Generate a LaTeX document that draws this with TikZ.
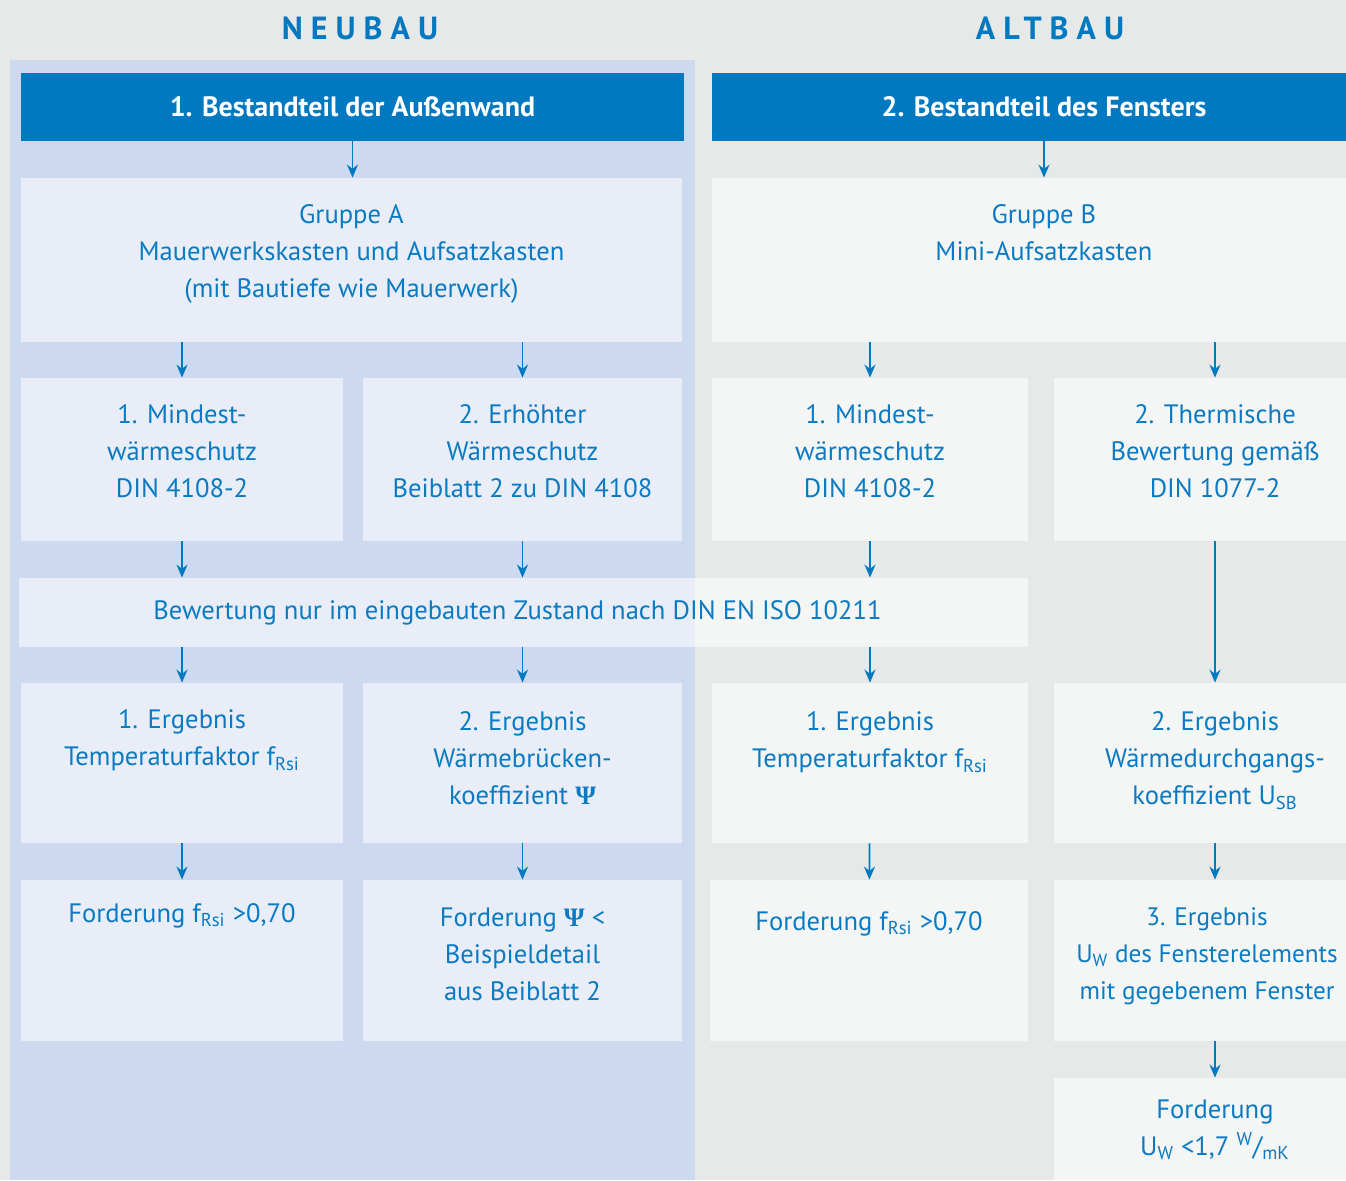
\documentclass[tikz,border=0pt]{standalone}
\usepackage{fontspec}
\setmainfont{PT Sans}
\newfontfamily\psifont{Liberation Serif}
\usetikzlibrary{arrows.meta,positioning}
\definecolor{bluetext}{HTML}{0A7BC2}
\definecolor{headblue}{HTML}{0079C1}
\definecolor{panelblue}{HTML}{CDD9EF}
\definecolor{bggray}{HTML}{E7E9E9}
\newcommand{\psisym}{{\psifont\bfseries Ψ}}

\begin{document}
\begin{tikzpicture}[x=0.5pt,y=-0.5pt]
		\tikzstyle{box} = [fill=white, fill opacity=0.55, text opacity=1, inner sep=0]
		\tikzstyle{head} = [fill=headblue, text=white, font=\bfseries\fontsize{14}{17}\selectfont, inner sep=0]
		\tikzstyle{title} = [text=headblue, font=\bfseries\fontsize{16}{18}\selectfont\addfontfeature{LetterSpace=25}]
		\tikzstyle{txt} = [text=bluetext, align=center, font=\fontsize{13.3}{18.5}\selectfont, inner sep=0, anchor=north, execute at begin node={\rule{0pt}{10pt}}]
		\tikzstyle{arr} = [-{Stealth[length=6.5pt,width=5.5pt]}, headblue, line width=0.9pt]
		\useasboundingbox (0,0) rectangle (1346,1180);
		\clip (0,0) rectangle (1346,1180);
		\fill[bggray] (0,0) rectangle (1346,1180);
		\fill[panelblue] (10,60) rectangle (695,1180);

		\node [title] (neubau) at (360,28) {NEUBAU};
		\node [title] (altbau) at (1050,28) {ALTBAU};
		\node [head, minimum width=331.5pt, minimum height=34pt] (hL) at (352.5,107) {1. Bestandteil der Außenwand};
		\node [head, minimum width=332pt, minimum height=34pt] (hR) at (1044,107) {2. Bestandteil des Fensters};

		\node [box, minimum width=330.5pt, minimum height=82pt] (gA) at (351.5,260) {};
		\node [box, minimum width=332pt, minimum height=82pt] (gB) at (1044,260) {};
		\node [txt, yshift=-13.5pt] (gAtext) at (gA.north) {Gruppe A\\Mauerwerkskasten und Aufsatzkasten\\(mit Bautiefe wie Mauerwerk)};
		\node [txt, yshift=-13.5pt] (gBtext) at (gB.north) {Gruppe B\\Mini-Aufsatzkasten};

		% Anforderungen
		\node [box, minimum width=161pt, minimum height=81.5pt] (m1L) at (182,459.5) {};
		\node [box, minimum width=159.5pt, minimum height=81.5pt] (e2L) at (522.5,459.5) {};
		\node [box, minimum width=158pt, minimum height=81.5pt] (m1R) at (870,459.5) {};
		\node [box, minimum width=161pt, minimum height=81.5pt] (t2R) at (1215,459.5) {};
		\node [txt, yshift=-13.5pt] (m1Ltext) at (m1L.north) {1. Mindest-\\wärmeschutz\\DIN 4108-2};
		\node [txt, yshift=-13.5pt] (e2Ltext) at (e2L.north) {2. Erhöhter\\Wärmeschutz\\Beiblatt 2 zu DIN 4108};
		\node [txt, yshift=-13.5pt] (m1Rtext) at (m1R.north) {1. Mindest-\\wärmeschutz\\DIN 4108-2};
		\node [txt, yshift=-13.5pt] (t2Rtext) at (t2R.north) {2. Thermische\\Bewertung gemäß\\DIN 1077-2};

		\node [box, minimum width=504.5pt, minimum height=34.5pt, text=bluetext, font=\fontsize{13.3}{18.5}\selectfont] (bar) at (523.5,612.5) {\hspace*{-6pt}Bewertung nur im eingebauten Zustand nach DIN EN ISO 10211};

		% Ergebnisse
		\node [box, minimum width=161pt, minimum height=80pt] (r1L) at (182,763) {};
		\node [box, minimum width=159.5pt, minimum height=80pt] (r2L) at (522.5,763) {};
		\node [box, minimum width=158pt, minimum height=80pt] (r1R) at (870,763) {};
		\node [box, minimum width=161pt, minimum height=80pt] (r2R) at (1215,763) {};
		\node [txt, yshift=-13.5pt] (r1Ltext) at (r1L.north) {1. Ergebnis\\Temperaturfaktor f\textsubscript{Rsi}};
		\node [txt, yshift=-14.5pt] (r2Ltext) at (r2L.north) {2. Ergebnis\\Wärmebrücken-\\koeffizient \psisym};
		\node [txt, yshift=-14.5pt] (r1Rtext) at (r1R.north) {1. Ergebnis\\Temperaturfaktor f\textsubscript{Rsi}};
		\node [txt, yshift=-14.5pt] (r2Rtext) at (r2R.north) {2. Ergebnis\\Wärmedurchgangs-\\koeffizient U\textsubscript{SB}};

		% Forderungen
		\node [box, minimum width=161pt, minimum height=80.5pt] (fL) at (182,960.5) {};
		\node [box, minimum width=159.5pt, minimum height=80.5pt] (fpsi) at (522.5,960.5) {};
		\node [box, minimum width=159pt, minimum height=80.5pt] (fR) at (869,960.5) {};
		\node [box, minimum width=161pt, minimum height=80.5pt] (e3R) at (1215,960.5) {};
		\node [box, minimum width=161pt, minimum height=61pt] (fwR) at (1215,1139) {};
		\node [txt, yshift=-11pt] (fLtext) at (fL.north) {Forderung f\textsubscript{Rsi} >0,70};
		\node [txt, yshift=-14pt] (fpsitext) at (fpsi.north) {Forderung \psisym{} <\\Beispieldetail\\aus Beiblatt 2};
		\node [txt, yshift=-15pt] (fRtext) at (fR.north) {Forderung f\textsubscript{Rsi} >0,70};
		\node [txt, yshift=-14pt, font=\fontsize{12.6}{18.5}\selectfont] (e3Rtext) at ([xshift=-4pt]e3R.north) {3. Ergebnis\\U\textsubscript{W} des Fensterelements\\mit gegebenem Fenster};
		\node [txt, yshift=-11pt] (fwRtext) at (fwR.north) {Forderung\\U\textsubscript{W} <1,7 \textsuperscript{W}/\textsubscript{mK}};

		\draw[arr] (hL.south) -- (hL.south |- gA.north);
		\draw[arr] (hR.south) -- (hR.south |- gB.north);
		\draw[arr] (gA.south -| m1L) -- (m1L);
		\draw[arr] (gA.south -| e2L) -- (e2L);
		\draw[arr] (gB.south -| m1R) -- (m1R);
		\draw[arr] (gB.south -| t2R) -- (t2R);
		\draw[arr] (m1L) -- (m1L |- bar.north);
		\draw[arr] (e2L) -- (e2L |- bar.north);
		\draw[arr] (m1R) -- (m1R |- bar.north);
		\draw[arr] (bar.south -| r1L) -- (r1L);
		\draw[arr] (bar.south -| r2L) -- (r2L);
		\draw[arr] (bar.south -| r1R) -- (r1R);
		\draw[arr] (t2R) -- (r2R);
		\draw[arr] (r1L) -- (fL);
		\draw[arr] (r2L) -- (fpsi);
		\draw[arr] (r1R) -- (fR);
		\draw[arr] (r2R) -- (e3R);
		\draw[arr] (e3R) -- (fwR);
	\end{tikzpicture}
\end{document}
